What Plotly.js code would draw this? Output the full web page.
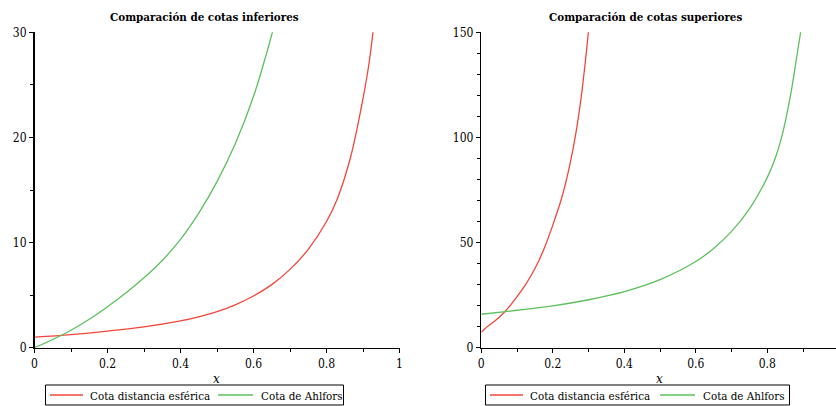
<!DOCTYPE html>
<html>
<head>
<meta charset="utf-8">
<script src="https://cdn.plot.ly/plotly-3.0.1.min.js"></script>
<style>
html,body{margin:0;padding:0;background:#fff;}
#chart{width:836px;height:406px;}
</style>
</head>
<body>
<div id="chart"></div>
<script>
// Left panel: Comparación de cotas inferiores
const infEsfX = [0, 0.1, 0.2, 0.3, 0.4, 0.45, 0.5, 0.55, 0.6, 0.65, 0.7, 0.75, 0.8, 0.83, 0.865, 0.895, 0.915, 0.928];
const infEsfY = [1.0, 1.25, 1.58, 1.98, 2.55, 2.93, 3.42, 4.08, 4.92, 6.0, 7.45, 9.35, 12.0, 14.2, 18.0, 22.8, 26.7, 30.2];
const infAhlX = [0, 0.05, 0.1, 0.15, 0.2, 0.25, 0.3, 0.35, 0.4, 0.45, 0.5, 0.55, 0.6, 0.635, 0.654];
const infAhlY = [0, 0.78, 1.66, 2.7, 3.9, 5.2, 6.65, 8.3, 10.3, 12.8, 15.8, 19.4, 23.9, 27.9, 30.3];

// Right panel: Comparación de cotas superiores
const supEsfX = [0, 0.01, 0.02, 0.035, 0.05, 0.065, 0.08, 0.1, 0.12, 0.14, 0.16, 0.18, 0.2, 0.225, 0.247, 0.266, 0.28, 0.291, 0.3];
const supEsfY = [7.3, 9.0, 10.4, 12.3, 14.5, 17.0, 19.9, 24.3, 29, 34.6, 41, 49, 58.3, 71.3, 86.5, 103.5, 120, 136, 151];
const supAhlX = [0, 0.1, 0.2, 0.3, 0.4, 0.5, 0.6, 0.65, 0.7, 0.75, 0.8, 0.82, 0.84, 0.865, 0.882, 0.895];
const supAhlY = [15.9, 17.8, 19.9, 22.8, 26.7, 32.4, 41, 47.2, 55.3, 66, 81, 89, 100, 120, 138, 152];

const seriesNames = ["Cota distancia esférica", "Cota de Ahlfors"];
const titles = ["Comparación de cotas inferiores", "Comparación de cotas superiores"];
const xTitle = "x";

const RED = "#f2463a";
const GREEN = "#5cc05c";
const FONT = "DejaVu Serif Condensed, DejaVu Serif";
const FONT_IT = "DejaVu Serif";

function line(x, y, color, xa, ya) {
  return {x: x, y: y, mode: "lines", line: {color: color, width: 1.3, shape: "spline", smoothing: 1},
    xaxis: xa, yaxis: ya, showlegend: false, hoverinfo: "skip"};
}

const traces = [
  line(infEsfX, infEsfY, RED, "x", "y"),
  line(infAhlX, infAhlY, GREEN, "x", "y"),
  line(supEsfX, supEsfY, RED, "x2", "y2"),
  line(supAhlX, supAhlY, GREEN, "x2", "y2")
];

function axis(extra) {
  return Object.assign({
    showline: true, linecolor: "#000", linewidth: 1.5, mirror: false,
    ticks: "outside", ticklen: 4, tickwidth: 1, tickcolor: "#000",
    showgrid: false, zeroline: false, fixedrange: true,
    tickfont: {family: FONT, size: 12, color: "#000"}
  }, extra);
}

const W = 836, H = 406;
const yDom = [1 - 347.7 / H, 1 - 32.3 / H];
const px = v => v / W;
const py = v => 1 - v / H;

const legends = [
  {left: 45.5, right: 343.5, top: 385, bottom: 405, items: [{x0: 50, x1: 83, tx: 88}, {x0: 218, x1: 253, tx: 259}]},
  {left: 485.5, right: 789.5, top: 385, bottom: 405, items: [{x0: 490, x1: 523, tx: 528}, {x0: 660, x1: 695, tx: 701}]}
];
const colors = [RED, GREEN];

const shapes = [];
const annotations = [
  {text: "<b>" + titles[0] + "</b>", xref: "paper", yref: "paper", x: px(204), y: py(17),
    xanchor: "center", yanchor: "middle", showarrow: false, font: {family: FONT, size: 11.5, color: "#000"}},
  {text: "<b>" + titles[1] + "</b>", xref: "paper", yref: "paper", x: px(645), y: py(17),
    xanchor: "center", yanchor: "middle", showarrow: false, font: {family: FONT, size: 11.5, color: "#000"}},
  {text: "<i>" + xTitle + "</i>", xref: "paper", yref: "paper", x: px(216), y: py(379),
    xanchor: "center", yanchor: "middle", showarrow: false, font: {family: FONT_IT, size: 12, color: "#000"}},
  {text: "<i>" + xTitle + "</i>", xref: "paper", yref: "paper", x: px(659), y: py(379),
    xanchor: "center", yanchor: "middle", showarrow: false, font: {family: FONT_IT, size: 12, color: "#000"}}
];
legends.forEach(lg => {
  shapes.push({type: "rect", xref: "paper", yref: "paper", x0: px(lg.left), x1: px(lg.right), y0: py(lg.bottom), y1: py(lg.top),
    line: {color: "#000", width: 1}, fillcolor: "rgba(0,0,0,0)"});
  const yc = (lg.top + lg.bottom) / 2;
  lg.items.forEach((it, i) => {
    shapes.push({type: "line", xref: "paper", yref: "paper", x0: px(it.x0), x1: px(it.x1), y0: py(yc), y1: py(yc),
      line: {color: colors[i], width: 1.3}});
    annotations.push({text: seriesNames[i], xref: "paper", yref: "paper", x: px(it.tx), y: py(yc + 0.5),
      xanchor: "left", yanchor: "middle", showarrow: false,
      font: {family: FONT, size: 11.5, color: "#000"}});
  });
});

const layout = {
  width: W, height: H,
  margin: {l: 0, r: 0, t: 0, b: 0},
  paper_bgcolor: "#fff", plot_bgcolor: "#fff",
  showlegend: false,
  font: {family: FONT},
  xaxis: axis({domain: [px(34.5), px(399.5)], range: [0, 1], dtick: 0.2, tick0: 0, anchor: "y",
    minor: {dtick: 0.1, ticks: "outside", ticklen: 3, tickcolor: "#000", showgrid: false}}),
  yaxis: axis({domain: yDom, range: [0, 30], dtick: 10, tick0: 0, anchor: "x",
    minor: {dtick: 5, ticks: "outside", ticklen: 3, tickcolor: "#000", showgrid: false}}),
  xaxis2: axis({domain: [px(481.3), 1], range: [0, (W - 481.3) / 357.5], dtick: 0.2, tick0: 0, anchor: "y2",
    minor: {dtick: 0.1, ticks: "outside", ticklen: 3, tickcolor: "#000", showgrid: false}}),
  yaxis2: axis({domain: yDom, range: [0, 150], dtick: 50, tick0: 0, anchor: "x2",
    minor: {dtick: 10, ticks: "outside", ticklen: 3, tickcolor: "#000", showgrid: false}}),
  shapes: shapes,
  annotations: annotations
};

Plotly.newPlot("chart", traces, layout, {staticPlot: true, displayModeBar: false});
</script>
</body>
</html>
